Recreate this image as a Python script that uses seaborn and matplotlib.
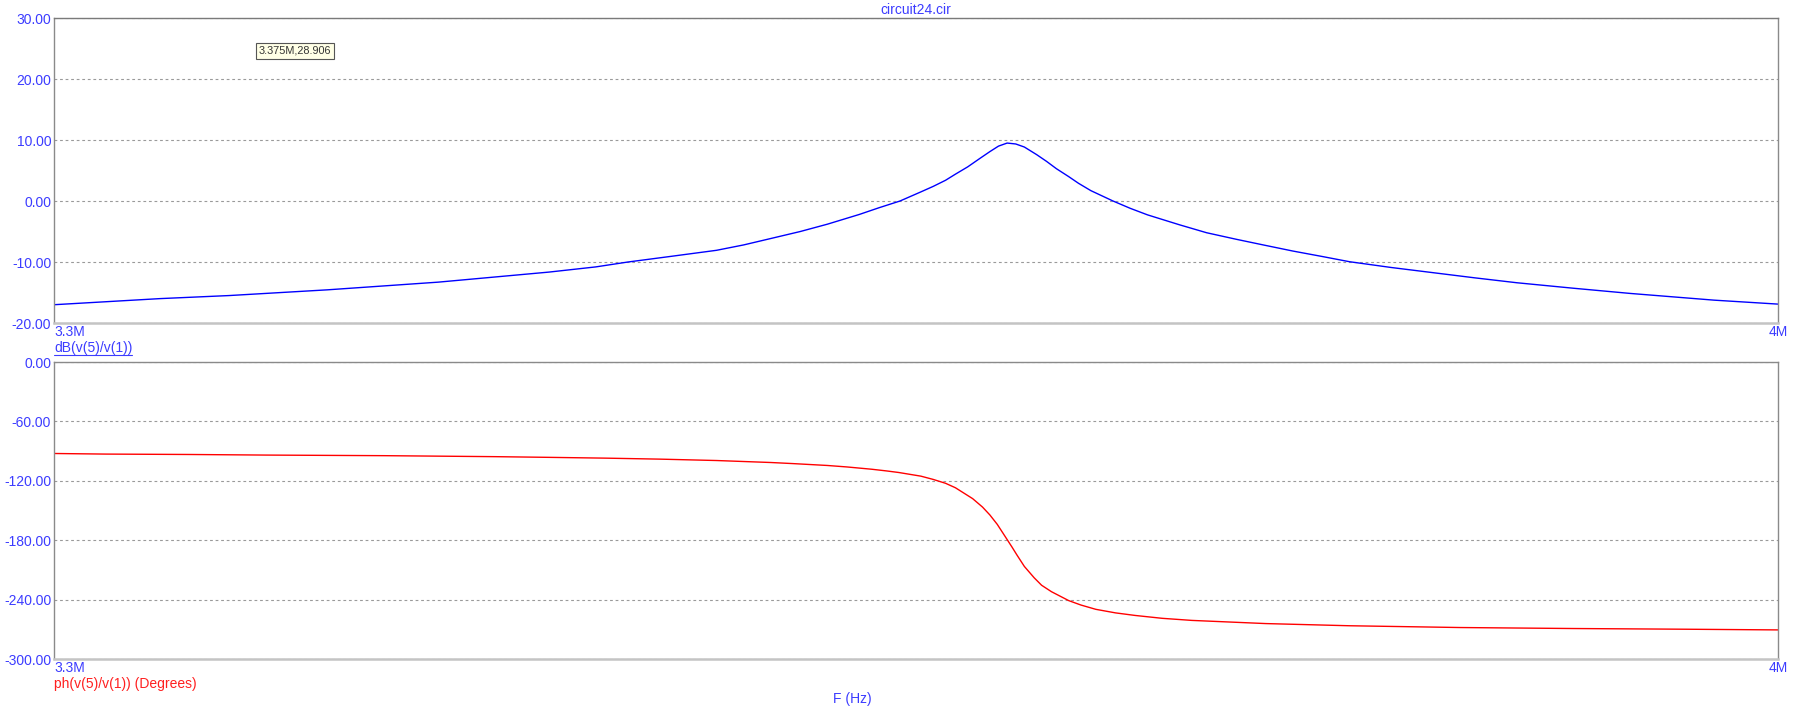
import numpy as np
import pandas as pd
import matplotlib
matplotlib.use('Agg')
import matplotlib.pyplot as plt
import seaborn as sns
from matplotlib.lines import Line2D
from matplotlib.transforms import IdentityTransform

# ---- data ----
freq_db = [3.300, 3.343, 3.371, 3.411, 3.456, 3.501, 3.520, 3.533, 3.550, 3.569,
           3.580, 3.591, 3.603, 3.614, 3.627, 3.635, 3.6435, 3.652, 3.657, 3.662,
           3.666, 3.671, 3.676, 3.680, 3.6835, 3.687, 3.6905, 3.694, 3.699, 3.703,
           3.707, 3.712, 3.716, 3.721, 3.730, 3.737, 3.744, 3.757, 3.768, 3.780,
           3.791, 3.803, 3.815, 3.826, 3.843, 3.860, 3.877, 3.894, 3.917, 3.940,
           3.957, 3.974, 4.000]
mag_db = [-17.0, -16.0, -15.5, -14.56, -13.3, -11.65, -10.8, -10.0, -9.1, -8.08,
          -7.2, -6.15, -5.0, -3.8, -2.2, -1.1, 0.0, 1.5, 2.4, 3.4,
          4.4, 5.6, 7.0, 8.1, 9.0, 9.5, 9.35, 8.85, 7.6, 6.5,
          5.3, 4.0, 2.9, 1.7, 0.0, -1.2, -2.27, -3.9, -5.2, -6.27,
          -7.2, -8.2, -9.1, -9.95, -10.9, -11.75, -12.6, -13.4, -14.3, -15.15,
          -15.7, -16.25, -16.9]

freq_ph = [3.300, 3.321, 3.355, 3.386, 3.434, 3.479, 3.501, 3.524, 3.546, 3.569,
           3.591, 3.600, 3.614, 3.622, 3.632, 3.638, 3.643, 3.652, 3.657, 3.662,
           3.666, 3.673, 3.677, 3.680, 3.683, 3.686, 3.689, 3.691, 3.694, 3.698,
           3.701, 3.705, 3.712, 3.717, 3.723, 3.731, 3.739, 3.750, 3.762, 3.792,
           3.826, 3.871, 3.917, 3.962, 4.000]
phase_deg = [-92.4, -93.0, -93.4, -94.0, -94.6, -95.6, -96.3, -97.1, -98.1, -99.5,
             -101.5, -102.6, -104.5, -106.0, -108.3, -110.0, -111.6, -115.3, -118.6, -122.5,
             -127.0, -138.0, -146.5, -154.5, -164.0, -175.5, -187.0, -195.0, -206.5, -218.0,
             -225.5, -232.0, -241.0, -245.5, -249.8, -253.4, -256.0, -258.9, -261.0, -264.2,
             -266.4, -268.2, -269.2, -269.9, -270.6]

db_ticks = [30, 20, 10, 0, -10, -20]
ph_ticks = [0, -60, -120, -180, -240, -300]
x_labels = ['3.3M', '4M']
x_range = [3.3, 4.0]
title_text = 'circuit24.cir'
db_label = 'dB(v(5)/v(1))'
ph_label = 'ph(v(5)/v(1)) (Degrees)'
x_axis_label = 'F (Hz)'
cursor_text = '3.375M,28.906'

# ---- style ----
sns.set_theme(style='white')
plt.rcParams['font.family'] = ['Liberation Sans', 'DejaVu Sans']

TXT_BLUE = '#3c3cff'
FS = 10

fig = plt.figure(figsize=(18, 7.09), dpi=100)
ax1 = fig.add_axes([0.03, 0.5444, 0.95778, 0.4302])
ax2 = fig.add_axes([0.03, 0.0705, 0.95778, 0.4189])

df_db = pd.DataFrame({'f': freq_db, 'v': mag_db})
df_ph = pd.DataFrame({'f': freq_ph, 'v': phase_deg})
sns.lineplot(data=df_db, x='f', y='v', ax=ax1, color='#0000ff', lw=1.0)
sns.lineplot(data=df_ph, x='f', y='v', ax=ax2, color='#ff0000', lw=1.0)

for ax, ticks in ((ax1, db_ticks), (ax2, ph_ticks)):
    ax.set_xlim(x_range)
    ax.set_ylim(min(ticks), max(ticks))
    ax.set_yticks(ticks)
    ax.set_yticklabels([f'{t:.2f}' for t in ticks], color=TXT_BLUE, fontsize=FS)
    ax.set_xticks([])
    ax.set_xlabel('')
    ax.set_ylabel('')
    ax.tick_params(axis='y', length=0, pad=2)
    ax.yaxis.grid(True, linestyle=(0, (2.5, 2.5)), color='#9a9a9a', lw=0.8)
    ax.xaxis.grid(False)
    for s in ('left', 'top', 'right'):
        ax.spines[s].set_color('#8a8a8a')
        ax.spines[s].set_linewidth(1.0)
    ax.spines['bottom'].set_color('#c4c4c4')
    ax.spines['bottom'].set_linewidth(1.8)
    ax.annotate(x_labels[0], xy=(0, 0), xycoords='axes fraction', xytext=(0, -6.5),
                textcoords='offset points', ha='left', va='center', color=TXT_BLUE, fontsize=FS)
    ax.annotate(x_labels[1], xy=(1, 0), xycoords='axes fraction', xytext=(0, -6.5),
                textcoords='offset points', ha='center', va='center', color=TXT_BLUE, fontsize=FS)

ax1.spines['top'].set_color('#7a7a7a')

t_db = ax1.annotate(db_label, xy=(0, 0), xycoords='axes fraction', xytext=(0, -18),
                    textcoords='offset points', ha='left', va='center', color=TXT_BLUE, fontsize=FS)
ax2.annotate(ph_label, xy=(0, 0), xycoords='axes fraction', xytext=(0, -18),
             textcoords='offset points', ha='left', va='center', color='#ff2020', fontsize=FS)

fig.text(852 / 1800, 1 - 699 / 709, x_axis_label, ha='center', va='center', color=TXT_BLUE, fontsize=FS)
fig.text(916 / 1800, 1 - 10 / 709, title_text, ha='center', va='center', color=TXT_BLUE, fontsize=FS)

ax1.text(0.1185, 0.892, cursor_text, transform=ax1.transAxes, ha='left', va='center',
         fontsize=7.8, color='#333333',
         bbox=dict(boxstyle='square,pad=0.25', facecolor='#ffffe6', edgecolor='#555555', lw=0.8))

# underline for the dB label
fig.canvas.draw()
bb = t_db.get_window_extent(renderer=fig.canvas.get_renderer())
fig.add_artist(Line2D([bb.x0, bb.x1], [bb.y0 + 0.5, bb.y0 + 0.5], transform=IdentityTransform(),
                      color=TXT_BLUE, lw=0.8))

fig.savefig('out.png', dpi=100, facecolor='white')
